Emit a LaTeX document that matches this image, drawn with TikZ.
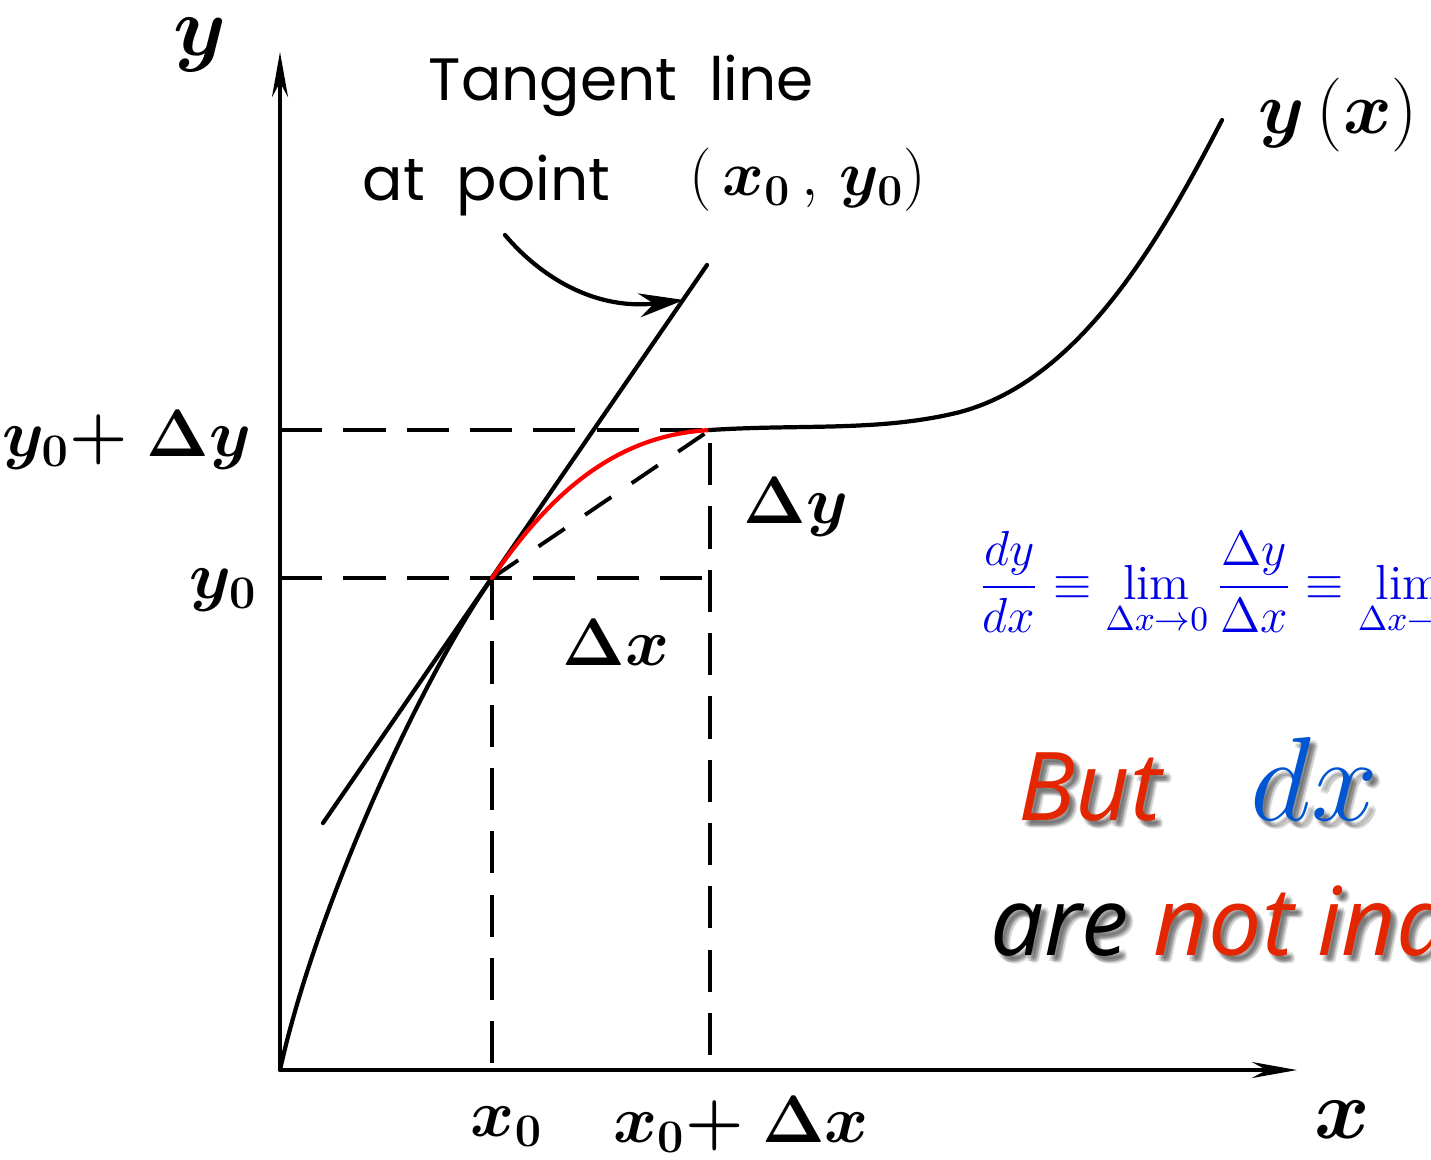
\RequirePackage{fix-cm}
\documentclass[tikz,border=0pt]{standalone}
\usepackage{amsmath}
\usepackage{amssymb}
\usepackage{bm}
\usepackage{fontspec}
\newfontfamily\tangfont{Poppins}
\newfontfamily\slidefont{Open Sans}
\usetikzlibrary{arrows.meta,calc,positioning}

\definecolor{butred}{RGB}{228,38,0}
\definecolor{dxblue}{RGB}{0,85,210}
\definecolor{limblue}{RGB}{0,0,230}

% ombra morbida del testo
\newcommand{\softshadow}[4]{%
  \foreach \sx/\sy in {3/4,4/6,6/5,5/7,7/8,2/6,6/3,8/6}{
    \node[#3, anchor=#2, opacity=0.09] at ($(#1)+(\sx,\sy)$) {\colorlet{butred}{black}\colorlet{dxblue}{black}#4};
  }%
}

\begin{document}
\begin{tikzpicture}[x=0.01cm, y=-0.01cm,
    curve/.style={line width=1.2pt, line cap=round},
    axis/.style={line width=1.2pt, -{Stealth[length=4.5mm, width=1.6mm]}},
    guide/.style={line width=1.1pt, dash pattern=on 12pt off 6pt},
    lab/.style={inner sep=0pt, font=\fontsize{19}{21}\selectfont},
    biglab/.style={inner sep=0pt, font=\fontsize{24}{26}\selectfont},
    tang/.style={inner sep=0pt, anchor=base west, font=\fontsize{17}{20}\selectfont\tangfont},
    slide/.style={inner sep=0pt, font=\fontsize{27}{30}\selectfont\slidefont\itshape}]

    \useasboundingbox (0,0) rectangle (1431,1159);
    \clip (0,0) rectangle (1431,1159);

    \coordinate (O) at (280,1070);
    \coordinate (xend) at (1297,1070);
    \coordinate (yend) at (280,52);
    \coordinate (P) at (492,578);
    \coordinate (Q) at (710,430);
    \coordinate (Pr) at (710,578);
    \coordinate (y0) at (280,578);
    \coordinate (y1) at (280,430);
    \coordinate (x0) at (492,1070);
    \coordinate (x1) at (710,1070);
    \coordinate (T1) at (323,823);
    \coordinate (T2) at (707,265);
    \coordinate (C1) at (1222,120);
    \coordinate (a1) at (505,235);
    \coordinate (a2) at (684,300);

    % assi
    \draw[axis] (O) -- (xend);
    \draw[axis] (O) -- (yend);

    % tratteggi
    \draw[guide] (y1) -- (Q) -- (x1);
    \draw[guide] (y0) -- (Pr);
    \draw[guide] (P) -- (x0);
    \draw[guide, dash pattern=on 9pt off 7pt] (P) -- (Q);

    % tangente e curva
    \draw[curve] (T1) -- (T2);
    \draw[curve] (O) .. controls (315,910) and (420,680) .. (P);
    \draw[curve, red] (P) .. controls (545,501) and (610,435) .. (Q);
    \draw[curve] (Q) .. controls (800,424) and (880,432) .. (960,412)
        .. controls (1080,380) and (1160,240) .. (C1);

    % freccia curva
    \draw[curve, -{Stealth[length=4.5mm, width=2.4mm]}] (a1) .. controls (545,282) and (600,310) .. (a2);

    % etichette
    \node[biglab] (ylab) at (200,45) {$\boldsymbol{y}$};
    \node[biglab] (xlab) at (1342,1120) {$\boldsymbol{x}$};
    \node[lab, font=\fontsize{21}{23}\selectfont] (yx) at (1338,115) {$\boldsymbol{y}\,(\boldsymbol{x})$};
    \node[lab, anchor=east] (y1lab) at (252,440) {$\boldsymbol{y_0{+}\;\Delta y}$};
    \node[lab, anchor=east] (y0lab) at (258,590) {$\boldsymbol{y_0}$};
    \node[lab] (dylab) at (796,507) {$\boldsymbol{\Delta y}$};
    \node[lab] (dxlab) at (616,643) {$\boldsymbol{\Delta x}$};
    \node[lab] (x0lab) at (507,1127) {$\boldsymbol{x_0}$};
    \node[lab] (x1lab) at (741,1125) {$\boldsymbol{x_0{+}\;\Delta x}$};

    \node[tang] (tangtxt) at (428,100) {Tangent\ \ line};
    \node[tang] (attxt) at (362,200) {at\ \ point};
    \node[lab, font=\fontsize{18}{20}\selectfont] (pt) at (808,180) {$(\,\boldsymbol{x_0}\,,\,\boldsymbol{y_0})$};

    % formula
    \node[inner sep=0pt, anchor=base west, text=limblue, font=\fontsize{14}{16}\selectfont] (lim) at (978,599)
        {$\displaystyle\frac{dy}{dx}\equiv\lim_{\Delta x\to 0}\frac{\Delta y}{\Delta x}\equiv\lim_{\Delta x\to 0}$};

    % testo della slide
    \coordinate (butpos) at (1018,820);
    \coordinate (dxpos) at (1250,820);
    \coordinate (arepos) at (990,955);
    \softshadow{butpos}{base west}{slide}{\color{butred}But}
    \softshadow{dxpos}{base west}{inner sep=0pt, font=\fontsize{34}{36}\selectfont}{\color{dxblue}$dx$}
    \softshadow{arepos}{base west}{slide}{are \textcolor{butred}{not ind}}
    \node[slide, anchor=base west, text=butred] (but) at (butpos) {But};
    \node[inner sep=0pt, anchor=base west, text=dxblue, font=\fontsize{34}{36}\selectfont] (dx) at (dxpos) {$dx$};
    \node[slide, anchor=base west] (are) at (arepos) {are \textcolor{butred}{not ind}};
\end{tikzpicture}
\end{document}
